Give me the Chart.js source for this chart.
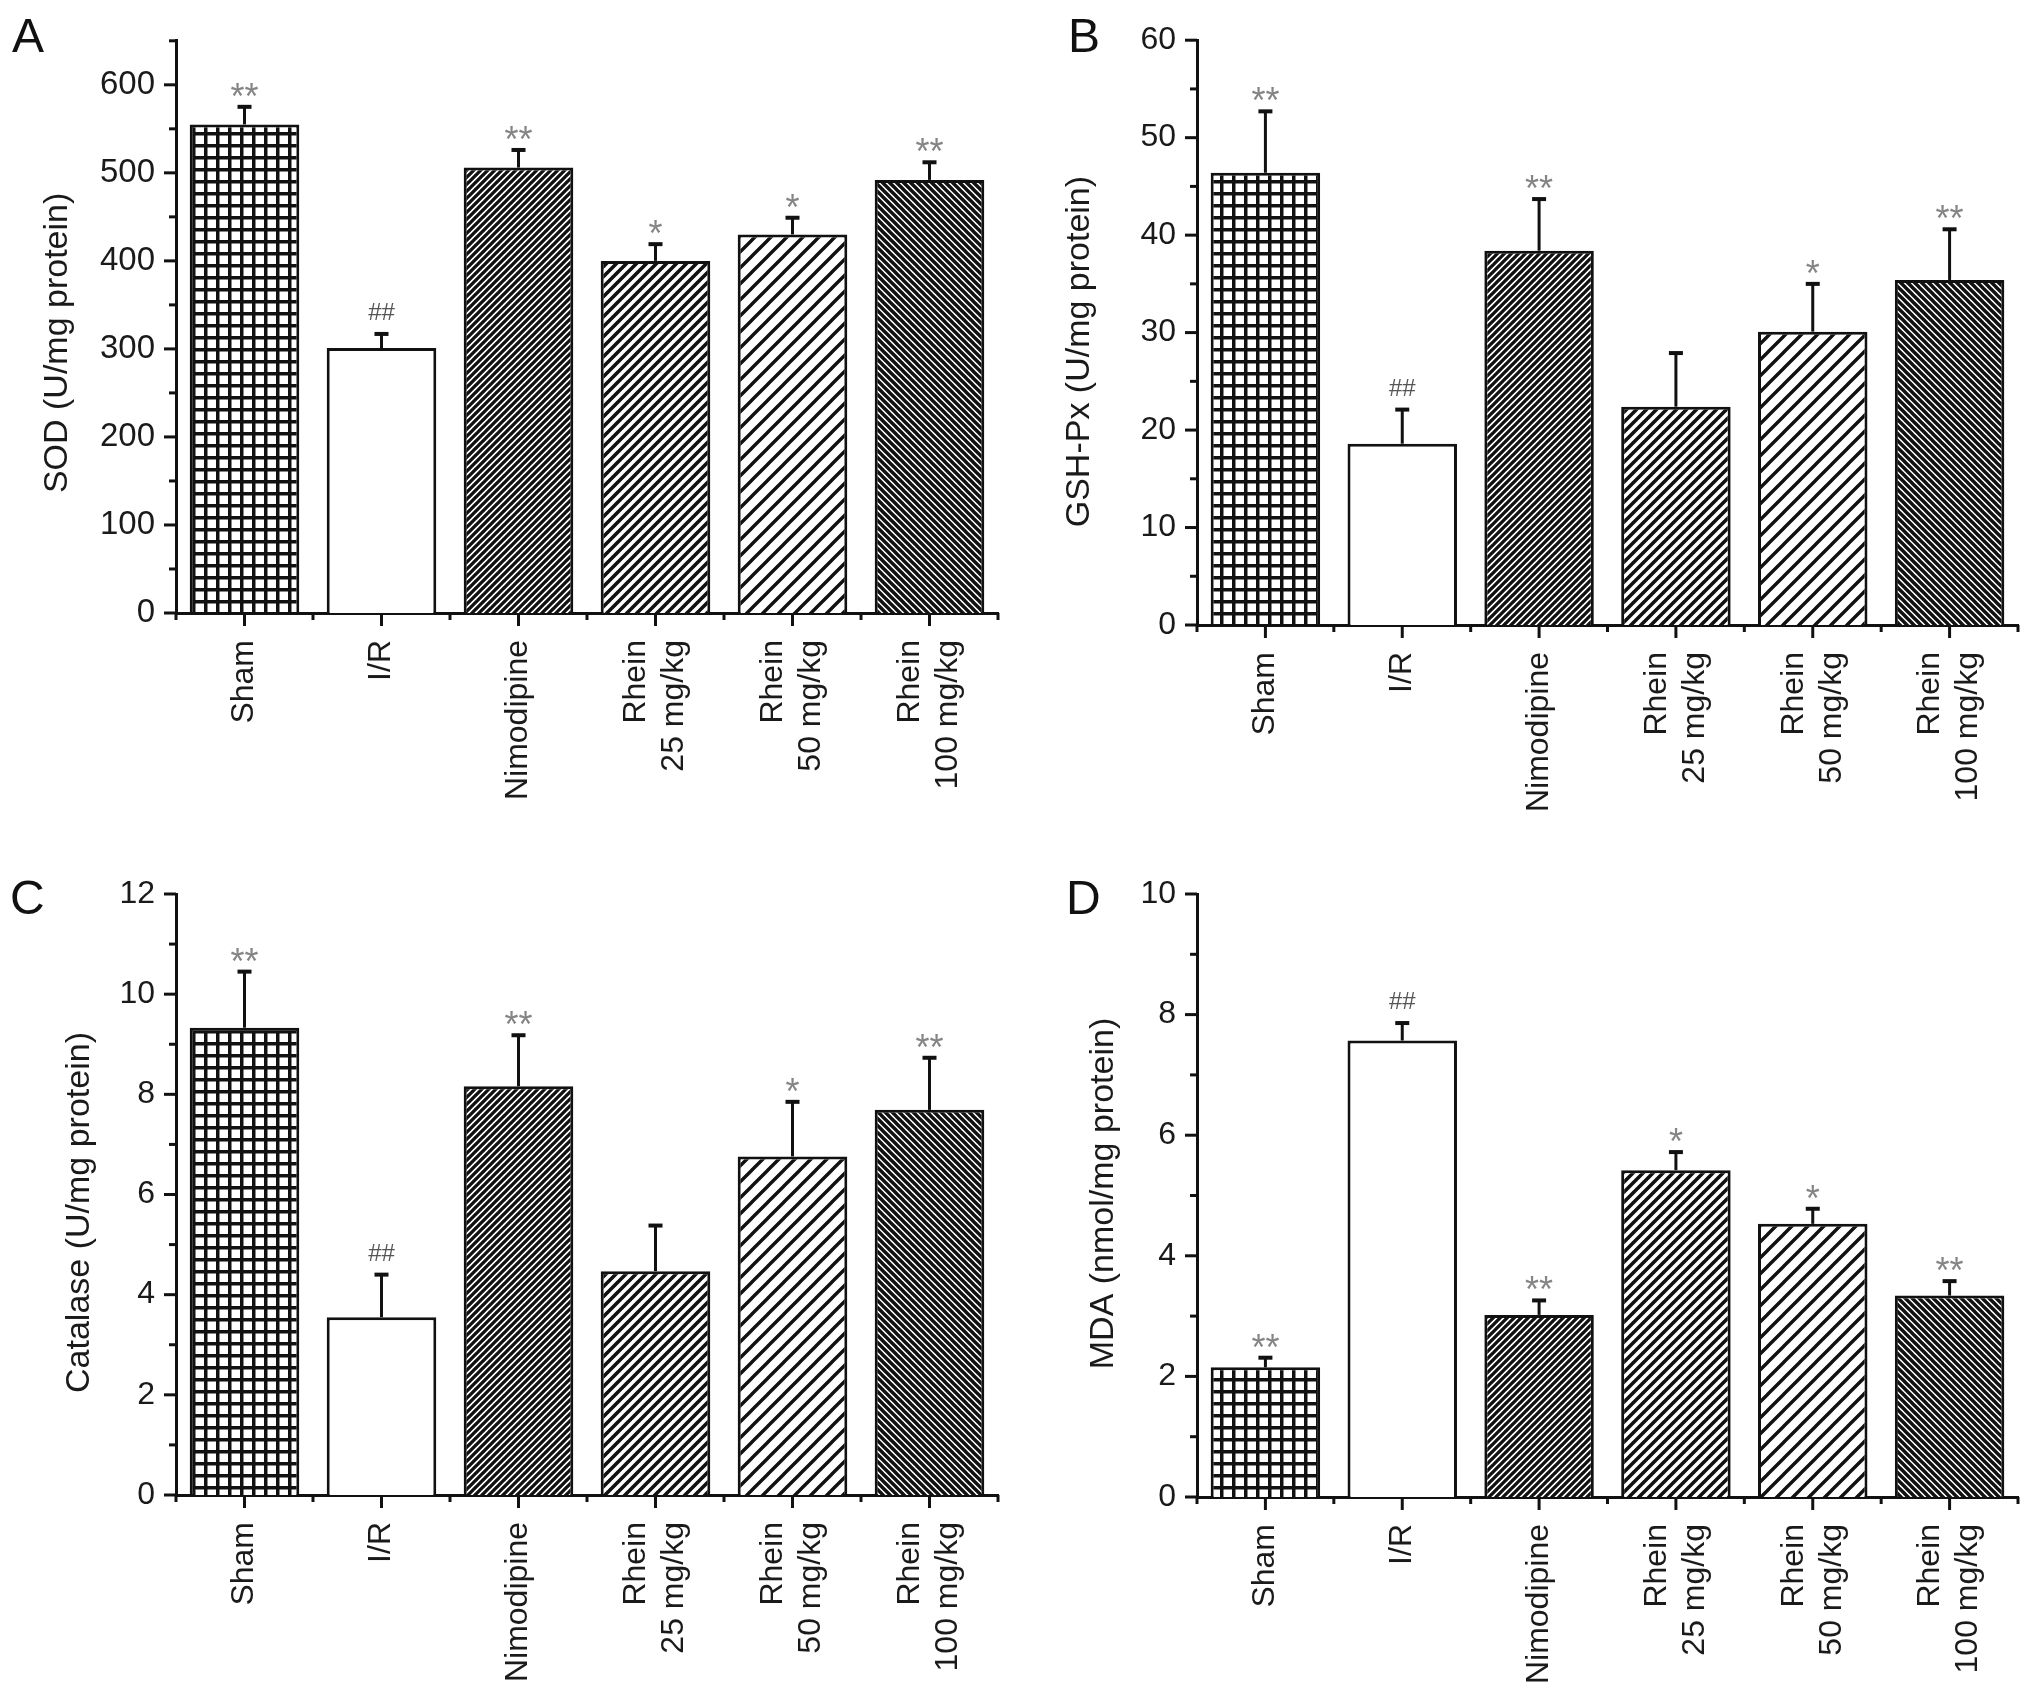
<!DOCTYPE html>
<html>
<head>
<meta charset="utf-8">
<script src="https://cdn.jsdelivr.net/npm/chart.js@4.4.1/dist/chart.umd.min.js"></script>
<style>
  body { margin: 0; background: #fff; width: 2032px; height: 1700px; position: relative; overflow: hidden; }
  .panel { position: absolute; width: 1016px; height: 850px; }
</style>
</head>
<body>
<div class="panel" style="left:0;top:0"><canvas id="chartA" width="1016" height="850"></canvas></div>
<div class="panel" style="left:1016px;top:0"><canvas id="chartB" width="1016" height="850"></canvas></div>
<div class="panel" style="left:0;top:850px"><canvas id="chartC" width="1016" height="850"></canvas></div>
<div class="panel" style="left:1016px;top:850px"><canvas id="chartD" width="1016" height="850"></canvas></div>
<script>
// groups on the x axis
const groups = ['Sham', 'I/R', 'Nimodipine', ['Rhein', '25 mg/kg'], ['Rhein', '50 mg/kg'], ['Rhein', '100 mg/kg']];

// A - SOD
const sodMean = [555, 301, 506, 400, 430, 492];
const sodErr = [20, 16, 20, 19, 19, 20];
const sodMarks = ['**', '##', '**', '*', '*', '**'];
const sodTicks = [0, 100, 200, 300, 400, 500, 600];

// B - GSH-Px
const gshMean = [46.4, 18.6, 38.4, 22.4, 30.1, 35.4];
const gshErr = [6.3, 3.5, 5.3, 5.5, 4.9, 5.2];
const gshMarks = ['**', '##', '**', '', '*', '**'];
const gshTicks = [0, 10, 20, 30, 40, 50, 60];

// C - Catalase
const catMean = [9.33, 3.55, 8.16, 4.47, 6.76, 7.69];
const catErr = [1.12, 0.85, 1.02, 0.91, 1.09, 1.04];
const catMarks = ['**', '##', '**', '', '*', '**'];
const catTicks = [0, 2, 4, 6, 8, 10, 12];

// D - MDA
const mdaMean = [2.15, 7.57, 3.02, 5.42, 4.53, 3.34];
const mdaErr = [0.16, 0.29, 0.24, 0.30, 0.25, 0.24];
const mdaMarks = ['**', '##', '**', '*', '*', '**'];
const mdaTicks = [0, 2, 4, 6, 8, 10];

const FONT = '"Liberation Sans", Arial, sans-serif';
const INK = '#111';

// hatch fills
function tile(size, draw) {
    const c = document.createElement('canvas');
    c.width = c.height = size;
    const g = c.getContext('2d');
    g.fillStyle = '#fff';
    g.fillRect(0, 0, size, size);
    draw(g, size);
    return g.createPattern(c, 'repeat');
}
function diag(size, width, dir) {
    return tile(size, function(g, s) {
        g.strokeStyle = INK;
        g.lineWidth = width;
        g.beginPath();
        [-s, 0, s].forEach(function(o) {
            if (dir > 0) { g.moveTo(o - 1, s + 1); g.lineTo(o + s + 1, -1); }
            else { g.moveTo(o - 1, -1); g.lineTo(o + s + 1, s + 1); }
        });
        g.stroke();
    });
}
const gridFill = tile(12, function(g, s) {
    g.fillStyle = INK;
    g.fillRect(0, 0, s, 3.5);
    g.fillRect(0, 0, 3.5, s);
});
const fills = [gridFill, '#fff', diag(7, 3.3, 1), diag(10, 3.6, 1), diag(16, 3.4, 1), diag(7, 3.4, -1)];

// error bars, marks, ticks, labels, titles
const decor = {
    id: 'decor',
    afterDatasetsDraw(chart, args, o) {
        const ctx = chart.ctx;
        const y = chart.scales.y;
        const vals = chart.data.datasets[0].data;
        ctx.save();
        ctx.strokeStyle = INK;
        ctx.textAlign = 'center';
        chart.getDatasetMeta(0).data.forEach(function(bar, i) {
            const base = y.getPixelForValue(vals[i]);
            const top = y.getPixelForValue(vals[i] + o.errors[i]);
            ctx.lineWidth = 3;
            ctx.beginPath(); ctx.moveTo(bar.x, base); ctx.lineTo(bar.x, top); ctx.stroke();
            ctx.lineWidth = 4;
            ctx.beginPath(); ctx.moveTo(bar.x - 7, top); ctx.lineTo(bar.x + 7, top); ctx.stroke();
            const m = o.marks[i];
            if (!m) return;
            ctx.textBaseline = 'alphabetic';
            if (m[0] === '#') {
                ctx.font = '24px ' + FONT;
                ctx.fillStyle = '#555';
                ctx.fillText(m, bar.x, top - 14);
            } else {
                ctx.font = '36px ' + FONT;
                ctx.fillStyle = '#858585';
                ctx.fillText(m, bar.x, top + 2);
            }
        });
        ctx.restore();
    },
    afterDraw(chart, args, o) {
        const ctx = chart.ctx;
        const area = chart.chartArea;
        const x = chart.scales.x, y = chart.scales.y;
        ctx.save();
        ctx.strokeStyle = INK;
        ctx.lineWidth = 3;
        const seg = function(x1, y1, x2, y2) { ctx.beginPath(); ctx.moveTo(x1, y1); ctx.lineTo(x2, y2); ctx.stroke(); };

        // y ticks: major and minor
        for (let v = y.min; v <= y.max + 1e-9; v += o.minorStep) {
            const py = y.getPixelForValue(v);
            const major = o.ticks.some(function(t) { return Math.abs(t - v) < 1e-6; });
            seg(area.left - (major ? 12 : 7), py, area.left, py);
        }
        // x ticks: centres and boundaries
        const n = chart.data.labels.length;
        for (let i = 0; i < n; i++) seg(x.getPixelForValue(i), area.bottom, x.getPixelForValue(i), area.bottom + 13);
        for (let i = 0; i <= n; i++) seg(x.getPixelForValue(i - 0.5), area.bottom, x.getPixelForValue(i - 0.5), area.bottom + 7);

        // category labels, rotated
        ctx.fillStyle = '#1a1a1a';
        ctx.font = '32px ' + FONT;
        ctx.textAlign = 'right';
        ctx.textBaseline = 'middle';
        chart.data.labels.forEach(function(lab, i) {
            const lines = Array.isArray(lab) ? lab : [lab];
            const cx = x.getPixelForValue(i);
            lines.forEach(function(t, j) {
                ctx.save();
                ctx.translate(cx + (j - (lines.length - 1) / 2) * 38, area.bottom + 27);
                ctx.rotate(-Math.PI / 2);
                ctx.fillText(t, 0, 0);
                ctx.restore();
            });
        });

        // y title
        const mid = (y.getPixelForValue(o.ticks[0]) + y.getPixelForValue(o.ticks[o.ticks.length - 1])) / 2;
        ctx.save();
        ctx.font = '34px ' + FONT;
        ctx.translate(o.titleX, mid + o.titleDy);
        ctx.rotate(-Math.PI / 2);
        ctx.textAlign = 'center';
        ctx.fillText(o.title, 0, 0);
        ctx.restore();

        // panel letter
        ctx.font = '48px ' + FONT;
        ctx.fillStyle = INK;
        ctx.textAlign = 'left';
        ctx.textBaseline = 'alphabetic';
        ctx.fillText(o.letter, o.letterX, o.letterY);
        ctx.restore();
    }
};

function makeChart(id, mean, err, marks, ticks, p) {
    new Chart(document.getElementById(id), {
        type: 'bar',
        data: {
            labels: groups,
            datasets: [{
                data: mean,
                backgroundColor: fills,
                borderColor: INK,
                borderWidth: 3,
                barPercentage: 0.8,
                categoryPercentage: 1.0
            }]
        },
        options: {
            responsive: false,
            animation: false,
            devicePixelRatio: 1,
            layout: { padding: { left: 0, top: p.top, right: p.right, bottom: 0 } },
            plugins: {
                legend: { display: false },
                tooltip: { enabled: false },
                decor: {
                    errors: err, marks: marks, ticks: ticks, minorStep: p.minor,
                    title: p.title, titleX: p.titleX, titleDy: p.titleDy,
                    letter: p.letter, letterX: p.letterX, letterY: p.letterY
                }
            },
            scales: {
                x: {
                    grid: { display: false },
                    border: { display: true, color: INK, width: 3 },
                    ticks: { display: false },
                    afterFit: function(s) { s.height = p.xHeight; }
                },
                y: {
                    min: 0,
                    max: p.max,
                    afterBuildTicks: function(s) { s.ticks = ticks.map(function(v) { return { value: v }; }); },
                    grid: { display: false, drawTicks: false },
                    border: { display: true, color: INK, width: 3 },
                    ticks: {
                        padding: 21,
                        color: '#1a1a1a',
                        font: { family: FONT, size: p.tickSize }
                    },
                    afterFit: function(s) { s.width = p.yWidth; }
                }
            }
        },
        plugins: [decor]
    });
}

makeChart('chartA', sodMean, sodErr, sodMarks, sodTicks, {
    max: 650, minor: 50, top: 17, right: 18, yWidth: 176, xHeight: 237, tickSize: 33,
    title: 'SOD (U/mg protein)', titleX: 58, titleDy: -6, letter: 'A', letterX: 12, letterY: 52
});
makeChart('chartB', gshMean, gshErr, gshMarks, gshTicks, {
    max: 60, minor: 5, top: 28, right: 14, yWidth: 181, xHeight: 225, tickSize: 32,
    title: 'GSH-Px (U/mg protein)', titleX: 64, titleDy: 19, letter: 'B', letterX: 52, letterY: 52
});
makeChart('chartC', catMean, catErr, catMarks, catTicks, {
    max: 12, minor: 1, top: 44, right: 18, yWidth: 176, xHeight: 205, tickSize: 32,
    title: 'Catalase (U/mg protein)', titleX: 80, titleDy: 18, letter: 'C', letterX: 10, letterY: 64
});
makeChart('chartD', mdaMean, mdaErr, mdaMarks, mdaTicks, {
    max: 10, minor: 1, top: 44, right: 14, yWidth: 181, xHeight: 203, tickSize: 32,
    title: 'MDA (nmol/mg protein)', titleX: 88, titleDy: -2, letter: 'D', letterX: 50, letterY: 64
});
</script>
</body>
</html>
